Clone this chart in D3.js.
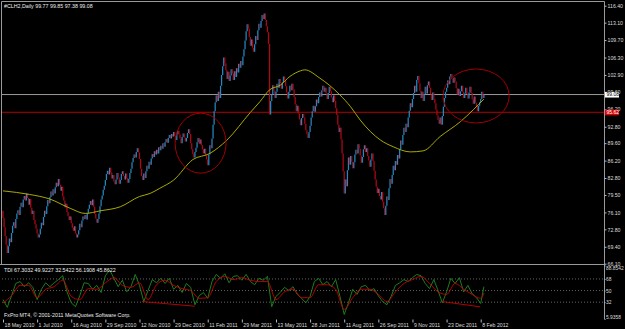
<!DOCTYPE html>
<html><head><meta charset="utf-8">
<script src="https://cdn.jsdelivr.net/npm/d3@7"></script>
<style>
body{margin:0;background:#000;}
svg{display:block;font-family:"Liberation Sans",Arial,sans-serif;}
</style></head><body>
<svg id="chart" width="625" height="329"></svg>
<script>
// daily closes #CLH2, 18 May 2010 .. 10 Feb 2012
var closes = [
 75.0, 73.2, 71.5, 69.8, 68.2, 69.5, 71.0, 70.3, 72.1, 73.5, 74.2, 73.0, 74.8, 75.9, 76.5, 75.6,
 77.2, 78.0, 77.1, 78.6, 79.3, 78.4, 79.8, 78.9, 77.6, 78.7, 77.0, 75.8, 76.4, 74.6, 73.8, 72.9,
 72.0, 71.2, 71.8, 72.9, 74.1, 73.6, 75.2, 76.4, 75.8, 77.3, 78.5, 77.9, 79.1, 80.2, 79.4, 80.6,
 79.8, 81.0, 81.9, 81.2, 82.6, 81.5, 80.3, 81.1, 79.2, 78.4, 77.1, 77.8, 76.2, 75.4, 74.6, 75.3,
 74.0, 73.1, 72.5, 73.4, 72.0, 71.2, 71.8, 72.6, 73.9, 73.2, 74.5, 75.3, 74.8, 75.6, 74.7, 75.9,
 76.8, 77.6, 78.3, 77.5, 78.6, 77.2, 75.8, 74.9, 74.1, 74.8, 75.9, 77.3, 78.6, 79.4, 80.5, 81.3,
 82.4, 83.6, 84.2, 83.5, 84.8, 83.9, 82.7, 83.4, 82.1, 81.6, 82.5, 83.8, 82.9, 81.7, 82.4, 83.6,
 84.1, 83.2, 82.5, 83.7, 82.8, 81.9, 82.6, 83.8, 84.6, 85.9, 86.7, 87.4, 86.8, 87.9, 88.6, 87.8,
 86.5, 84.6, 83.2, 82.4, 83.7, 82.8, 84.1, 85.2, 84.6, 86.0, 85.4, 86.6, 87.5, 86.9, 88.0, 87.4,
 88.3, 87.6, 88.8, 88.2, 89.1, 88.5, 89.6, 88.9, 89.8, 90.4, 89.7, 90.6, 91.2, 90.5, 91.4, 90.9,
 91.8, 91.0, 90.2, 91.4, 92.0, 91.3, 90.5, 89.6, 90.8, 91.5, 90.7, 89.9, 90.6, 91.6, 92.3, 91.4,
 89.6, 88.4, 87.5, 86.8, 87.9, 88.7, 89.8, 90.6, 89.5, 90.3, 89.2, 88.4, 87.6, 88.5, 87.2, 86.4,
 85.3, 87.4, 89.2, 88.6, 90.5, 93.2, 95.8, 97.6, 98.9, 97.8, 99.6, 98.4, 100.8, 102.9, 104.6, 106.3,
 105.2, 103.8, 102.1, 103.5, 101.7, 102.8, 104.0, 103.2, 101.9, 103.6, 102.5, 104.2, 103.4, 105.1, 104.3, 105.6,
 104.8, 106.5, 107.9, 109.6, 111.4, 112.8, 111.9, 110.3, 108.6, 109.8, 108.2, 107.4, 108.9, 110.5, 109.7, 111.6,
 112.9, 112.1, 113.4, 114.6, 113.8, 114.9, 113.6, 112.4, 111.2, 109.0, 95.2, 97.8, 99.1, 100.9, 99.8, 98.4,
 99.6, 101.2, 100.4, 102.1, 101.3, 100.2, 101.5, 102.6, 101.8, 100.7, 99.5, 98.3, 99.6, 100.8, 99.9, 101.2,
 100.1, 98.6, 97.2, 95.8, 96.9, 95.4, 94.2, 93.1, 94.5, 95.3, 94.6, 93.4, 92.1, 91.4, 90.6, 91.8,
 93.0, 94.6, 95.8, 96.9, 95.7, 96.8, 98.1, 97.4, 98.6, 99.5, 98.7, 99.9, 100.8, 99.6, 100.4, 99.3,
 98.2, 99.4, 100.6, 99.7, 98.5, 97.6, 98.9, 97.8, 96.4, 95.1, 93.2, 91.8, 92.6, 90.3, 87.6, 84.1,
 79.8, 82.5, 81.2, 84.3, 86.8, 85.4, 87.1, 86.0, 84.7, 85.9, 87.4, 88.3, 87.6, 89.4, 88.5, 87.2,
 85.8, 86.9, 88.4, 89.2, 87.9, 88.6, 87.1, 86.2, 85.0, 86.4, 87.6, 86.1, 84.2, 82.5, 81.1, 79.9,
 80.7, 79.3, 78.6, 80.1, 78.2, 76.9, 75.6, 77.4, 79.2, 78.5, 80.8, 82.6, 81.7, 83.4, 85.2, 84.3,
 86.1, 85.4, 87.3, 86.6, 88.4, 90.1, 89.3, 91.2, 92.6, 91.8, 93.4, 92.7, 94.6, 95.9, 97.4, 96.6,
 98.2, 99.4, 100.8, 99.6, 101.9, 102.7, 101.3, 99.8, 98.4, 99.6, 97.8, 99.2, 100.6, 99.3, 100.9, 101.6,
 100.4, 99.1, 98.0, 99.5, 98.2, 97.4, 96.1, 95.0, 94.1, 93.4, 94.6, 93.2, 94.9, 96.7, 98.4, 99.6,
 100.4, 101.8, 101.1, 102.6, 103.1, 102.2, 101.4, 102.4, 101.6, 100.3, 99.1, 100.2, 98.8, 99.7, 100.8, 99.6,
 98.4, 99.3, 100.4, 99.2, 98.3, 99.5, 100.6, 99.4, 98.1, 97.3, 98.7, 97.5, 96.8, 95.8, 96.9, 97.6,
 98.2, 99.6, 98.4, 99.08
];
var firstOpen = 76.4;

// moving average, read at these bar numbers
var maIdx = [0, 25, 44, 63, 77, 91, 110, 128, 138, 147, 160, 178, 194, 210, 232, 241, 250, 260, 269, 279, 283, 297, 316, 326, 335, 354, 366, 382, 394, 410, 429, 441, 451];
var maVal = [80.3, 79.6, 78.7, 76.9, 75.9, 76.4, 77.2, 79.2, 79.8, 80.8, 82.4, 86.4, 87.6, 90.2, 95.6, 97.7, 100.0, 100.9, 102.6, 103.7, 103.9, 102.3, 99.0, 96.7, 94.1, 90.2, 88.9, 87.9, 88.1, 90.9, 93.8, 96.1, 98.2];

// TDI: green price line every 4 bars, red signal line every 8 bars
var tdiGreen = [36,24,42,61,64,56,62,55,36,52,62,56,62,67,73,48,31,25,42,62,61,52,58,47,73,82,69,56,66,48,56,75,58,33,50,67,62,69,61,69,52,58,47,61,55,28,42,47,38,64,75,69,76,62,72,73,66,75,64,59,69,66,72,25,41,47,55,50,56,44,38,31,41,64,69,59,64,56,67,41,13,31,52,44,56,58,50,53,42,33,28,41,58,62,67,64,70,75,73,61,53,67,50,31,48,69,61,70,48,58,45,39,30,56];
var tdiRed = [31,42,58,58,39,52,56,66,41,36,53,52,62,70,58,55,62,36,59,66,58,53,50,38,39,64,72,67,70,66,64,64,36,48,52,39,39,59,59,52,21,39,52,52,44,33,48,61,67,72,61,48,44,61,52,44,38,46];
var tdiLevels = [68, 50, 32];
var tdiMin = 5.9358, tdiMax = 88.8542;

var dateLabels = ["18 May 2010","1 Jul 2010","16 Aug 2010","29 Sep 2010","12 Nov 2010","29 Dec 2010","11 Feb 2011","29 Mar 2011","13 May 2011","28 Jun 2011","11 Aug 2011","26 Sep 2011","9 Nov 2011","23 Dec 2011","8 Feb 2012"];
var priceTicks = [116.40,113.10,109.70,106.30,102.90,99.60,96.20,92.80,89.60,86.20,82.80,79.50,76.10,72.80,69.40,66.10];
var bidPrice = 99.08, levelPrice = 95.62;

var bullCol = "#2389c0", bearCol = "#b00818";

var svg = d3.select("#chart");
svg.append("rect").attr("width",625).attr("height",329).attr("fill","#000");

var n = closes.length;
var x = d3.scaleLinear().domain([0,448]).range([3,480.7]);
var y = d3.scaleLinear().domain([66.1,116.4]).range([263.7,5.7]);
var yt = d3.scaleLinear().domain([tdiMin,tdiMax]).range([319,265.5]);

var main = svg.append("g");
main.append("clipPath").attr("id","clipMain").append("rect").attr("x",2).attr("y",2).attr("width",602.5).attr("height",261.5);
main.attr("clip-path","url(#clipMain)");

// horizontal lines
main.append("line").attr("x1",2).attr("x2",604.5).attr("y1",y(bidPrice)).attr("y2",y(bidPrice)).attr("stroke","#9a9a9a").attr("stroke-width",1);
main.append("line").attr("x1",2).attr("x2",604.5).attr("y1",y(levelPrice)).attr("y2",y(levelPrice)).attr("stroke","#b40000").attr("stroke-width",1);

// candles
main.append("g").selectAll("line").data(closes).enter().append("line")
  .attr("x1",(d,i)=>x(i)).attr("x2",(d,i)=>x(i))
  .attr("y1",function(d,i){ var o = i ? closes[i-1] : firstOpen; var a=y(o), b=y(d); return Math.abs(a-b)<1.5 ? (a+b)/2-0.8 : a; })
  .attr("y2",function(d,i){ var o = i ? closes[i-1] : firstOpen; var a=y(o), b=y(d); return Math.abs(a-b)<1.5 ? (a+b)/2+0.8 : b; })
  .attr("stroke",function(d,i){ var o = i ? closes[i-1] : firstOpen; return d>=o ? bullCol : bearCol; })
  .attr("stroke-width",1.25);

// moving average
var maPts = maIdx.map((d,i)=>[x(d), y(maVal[i])]);
main.append("path").attr("d",d3.line().curve(d3.curveMonotoneX)(maPts))
  .attr("fill","none").attr("stroke","#bcbc00").attr("stroke-width",0.9);

// circles drawn on the chart
var ellipses = [{b:185.3,p:89.6,rb:23.9,rp:5.85},{b:443.7,p:98.8,rb:31,rp:5.26}];
main.selectAll("ellipse").data(ellipses).enter().append("ellipse")
  .attr("cx",d=>x(d.b)).attr("cy",d=>y(d.p))
  .attr("rx",d=>x(d.b+d.rb)-x(d.b)).attr("ry",d=>y(d.p-d.rp)-y(d.p))
  .attr("fill","none").attr("stroke","#a00000").attr("stroke-width",1);

// frame
svg.append("line").attr("x1",1.5).attr("x2",604.5).attr("y1",1.5).attr("y2",1.5).attr("stroke","#9a9a9a");
svg.append("line").attr("x1",1.5).attr("x2",1.5).attr("y1",1.5).attr("y2",264).attr("stroke","#9a9a9a");
svg.append("line").attr("x1",0).attr("x2",604.5).attr("y1",264.5).attr("y2",264.5).attr("stroke","#9a9a9a");
svg.append("line").attr("x1",604.5).attr("x2",604.5).attr("y1",1.5).attr("y2",319).attr("stroke","#9a9a9a");

// price axis
var yAxis = svg.append("g").attr("transform","translate(604.5,0)")
  .call(d3.axisRight(y).tickValues(priceTicks).tickSize(2).tickPadding(1).tickFormat(d3.format(".2f")));
yAxis.select(".domain").remove();
yAxis.selectAll("line").attr("stroke","#bbb");
yAxis.selectAll("text").attr("fill","#ddd").style("font-size","5.2px");

// price labels on the axis
var tags = [{v:bidPrice,bg:"#fff",fg:"#000"},{v:levelPrice,bg:"#e00000",fg:"#fff"}];
tags.forEach(function(t){
  var g = svg.append("g").attr("transform","translate(605,"+y(t.v)+")");
  g.append("rect").attr("x",0).attr("y",-2.6).attr("width",14).attr("height",5.6).attr("fill",t.bg);
  g.append("text").attr("x",1.5).attr("y",1.9).attr("fill",t.fg).style("font-size","5px").text(t.v.toFixed(2));
});

// title
svg.append("text").attr("x",4).attr("y",7.5).attr("fill","#eee").style("font-size","5.3px")
  .text("#CLH2,Daily  99.77 99.85 97.38 99.08");

// TDI window
var tdi = svg.append("g");
tdi.selectAll(".lvl").data(tdiLevels).enter().append("line").attr("class","lvl")
  .attr("x1",2).attr("x2",604).attr("y1",d=>yt(d)).attr("y2",d=>yt(d))
  .attr("stroke","#7a7a7a").attr("stroke-width",0.8).attr("stroke-dasharray","1,2");

var greenPts = tdiGreen.map((d,i)=>[x(Math.min(i*4,n-1)), yt(d)]);
var redPts = tdiRed.map((d,i)=>[x(Math.min(i*8,n-1)), yt(d)]);
tdi.append("path").attr("d",d3.line()(greenPts)).attr("fill","none").attr("stroke","#1f8a1f").attr("stroke-width",0.9);
tdi.append("path").attr("d",d3.line().curve(d3.curveMonotoneX)(redPts)).attr("fill","none").attr("stroke","#c80000").attr("stroke-width",0.9);

// trend lines drawn in the TDI window
var tdiTrends = [[130.4,33,180,25.7],[411.8,33,447.5,24.8]];
tdi.selectAll(".tr").data(tdiTrends).enter().append("line").attr("class","tr")
  .attr("x1",d=>x(d[0])).attr("y1",d=>yt(d[1])).attr("x2",d=>x(d[2])).attr("y2",d=>yt(d[3]))
  .attr("stroke","#c80000").attr("stroke-width",0.9);

tdi.append("text").attr("x",4).attr("y",272).attr("fill","#eee").style("font-size","5.3px")
  .text("TDI 67.3032 49.9227 32.5422 56.1908 45.8622");
tdi.append("text").attr("x",4).attr("y",317).attr("fill","#eee").style("font-size","5.3px")
  .text("FxPro MT4, \u00a9 2001-2011 MetaQuotes Software Corp.");

var tdiAxis = svg.append("g").attr("transform","translate(604.5,0)")
  .call(d3.axisRight(yt).tickValues([tdiMax].concat(tdiLevels,[tdiMin])).tickSize(1).tickPadding(0.5)
  .tickFormat(d=> (d===tdiMax||d===tdiMin) ? d.toFixed(4) : d));
tdiAxis.select(".domain").remove();
tdiAxis.selectAll("line").attr("stroke","#bbb");
tdiAxis.selectAll("text").attr("fill","#ddd").style("font-size","4.9px");
tdiAxis.selectAll(".tick").filter(d=>d===tdiMax).select("text").attr("dy","0.9em");
tdiAxis.selectAll(".tick").filter(d=>d===tdiMin).select("text").attr("dy","-0.1em");

// date axis
var xAxis = svg.append("g").attr("transform","translate(0,319.5)")
  .call(d3.axisBottom(x).tickValues(d3.range(0,449,32)).tickSize(3).tickPadding(1)
  .tickFormat((d,i)=>dateLabels[i]));
xAxis.select(".domain").remove();
xAxis.selectAll("line").attr("stroke","#bbb");
xAxis.selectAll("text").attr("fill","#ddd").style("font-size","5.2px").attr("text-anchor","start").attr("dx",1);
</script>
</body></html>
